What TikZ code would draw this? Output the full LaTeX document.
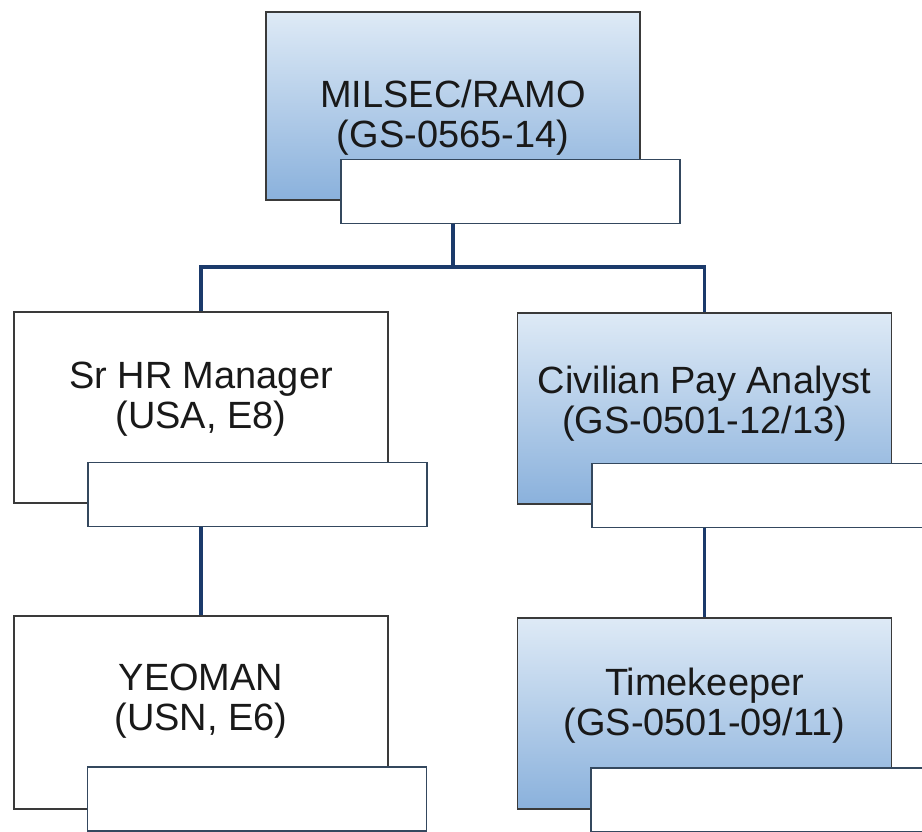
\documentclass[tikz,border=0pt]{standalone}
\usepackage{fontspec}
\setmainfont{Liberation Sans}
\definecolor{navy}{HTML}{1B3A6B}
\definecolor{boxline}{HTML}{3A3A3A}
\definecolor{tagline}{HTML}{34485E}
\definecolor{palebl}{HTML}{DEEAF6}
\definecolor{deepbl}{HTML}{8AB1DC}
\begin{document}
\begin{tikzpicture}[x=0.02cm, y=-0.02cm,
    post/.style={shape=rectangle, draw=boxline, line width=1pt, fill=white,
      minimum width=7.48cm, minimum height=3.82cm},
    civpost/.style={post, top color=palebl, bottom color=deepbl},
    title/.style={align=center, text=black!90, inner sep=0pt,
      font=\fontsize{21.6}{22.8}\selectfont},
    tag/.style={shape=rectangle, draw=tagline, line width=0.8pt, fill=white,
      minimum width=6.78cm, minimum height=1.28cm},
    link/.style={draw=navy, line width=2.2pt}]
\clip (0,0) rectangle (922,831);
\fill[white] (0,0) rectangle (922,831);

% positions
\node[civpost, minimum height=3.76cm] at (453,106) (ramo) {};
\node[post] at (201,407.5) (hr) {};
\node[civpost] at (704.5,408.5) (pay) {};
\node[post, minimum height=3.86cm] at (201,712.5) (yeo) {};
\node[civpost] at (704.5,713.5) (time) {};

% titles
\node[title, yshift=-0.24cm] at (ramo) (ramotxt) {MILSEC/RAMO\\(GS-0565-14)};
\node[title, yshift=0.16cm] at (hr) (hrtxt) {Sr HR Manager\\(USA, E8)};
\node[title, yshift=0.1cm] at (pay) (paytxt) {Civilian Pay Analyst\\(GS-0501-12/13)};
\node[title, yshift=0.22cm] at (yeo) (yeotxt) {YEOMAN\\(USN, E6)};
\node[title, yshift=0.16cm] at (time) (timetxt) {Timekeeper\\(GS-0501-09/11)};

% reporting lines
\coordinate (bus) at (453,267);
\draw[link] (ramo.south) -- (bus);
\draw[link] (hr.north) |- (bus) -| (pay.north);
\draw[link] (hr.south) -- (yeo.north);
\draw[link] (pay.south) -- (time.north);

% empty name tags
\node[tag] at (510.5,191.5) (ramotag) {};
\node[tag] at (257.5,494.5) (hrtag) {};
\node[tag] at (761.5,495.5) (paytag) {};
\node[tag] at (257,799) (yeotag) {};
\node[tag] at (760.5,800) (timetag) {};
\end{tikzpicture}
\end{document}
